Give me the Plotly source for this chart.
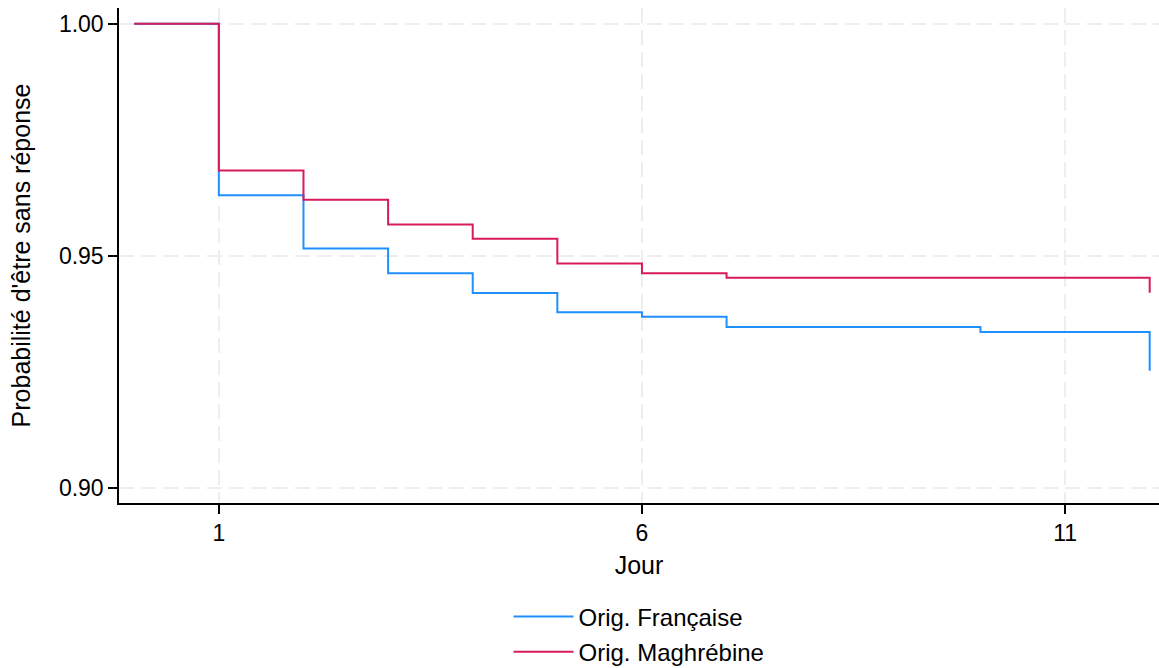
import plotly.graph_objects as go

jours = [0, 1, 2, 3, 4, 5, 6, 7, 8, 9, 10, 11, 12]
francaise = [1.0, 0.9631, 0.9516, 0.9463, 0.9420, 0.9379, 0.9369, 0.9347, 0.9347, 0.9347, 0.9336, 0.9336, 0.9253]
maghrebine = [1.0, 0.9684, 0.9621, 0.9568, 0.9537, 0.9484, 0.9463, 0.9453, 0.9453, 0.9453, 0.9453, 0.9453, 0.9421]
x_ticks = [1, 6, 11]
y_ticks = [0.90, 0.95, 1.00]
y_tick_labels = ["0.90", "0.95", "1.00"]

fig = go.Figure()
fig.add_trace(go.Scatter(x=jours, y=francaise, mode="lines", line_shape="hv", legendgroup="a",
                         line=dict(color="#1E90FF", width=2), name="Orig. Française"))
fig.add_trace(go.Scatter(x=jours, y=maghrebine, mode="lines", line_shape="hv", legendgroup="b",
                         line=dict(color="#D81B5A", width=2), name="Orig. Maghrébine"))

grid = dict(showgrid=True, gridcolor="#EEEEEE", gridwidth=2, griddash="15px,7px")
fig.update_xaxes(range=[-0.18, 12.11], tickvals=x_ticks, ticks="outside", ticklen=9,
                 tickcolor="black", tickwidth=1.5, showline=True, linecolor="black", linewidth=1.5,
                 zeroline=False, automargin=False, tickfont=dict(size=23),
                 title=dict(text="Jour", standoff=11, font=dict(size=25)), **grid)
fig.update_yaxes(range=[0.8968, 1.0034], tickvals=y_ticks, ticktext=y_tick_labels,
                 ticks="outside", ticklen=9, tickcolor="black", tickwidth=1.5, showline=True,
                 linecolor="black", linewidth=1.5, zeroline=False, automargin=False,
                 tickfont=dict(size=23),
                 title=dict(text="Probabilité d'être sans réponse", standoff=21, font=dict(size=25)),
                 **grid)

fig.update_layout(
    width=1159, height=668,
    margin=dict(l=119, r=0, t=8, b=165),
    plot_bgcolor="white", paper_bgcolor="white",
    font=dict(family="Liberation Sans, Arial, sans-serif", size=22, color="black"),
    legend=dict(orientation="v", x=0.5, xanchor="center", yref="container", y=0.110, yanchor="top",
                font=dict(size=24), tracegroupgap=1, itemwidth=60),
)
fig.write_html("out.html", config={"displayModeBar": False},
               post_script="document.body.style.margin='0';document.body.style.overflow='hidden';")
